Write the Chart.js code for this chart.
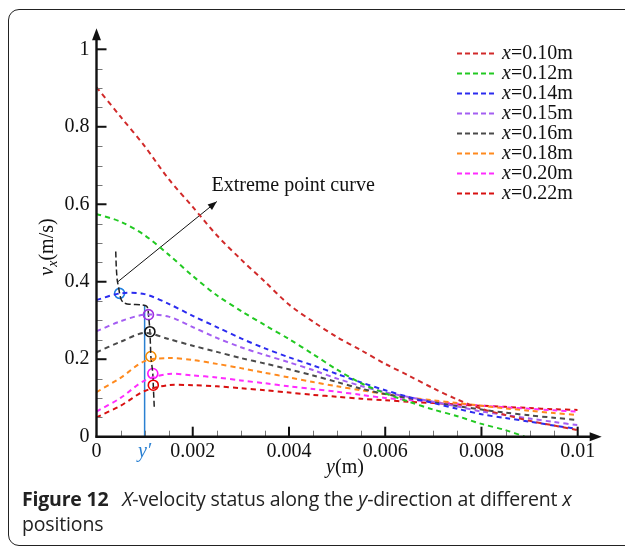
<!DOCTYPE html>
<html><head><meta charset="utf-8">
<script src="https://cdn.jsdelivr.net/npm/chart.js@4/dist/chart.umd.min.js"></script>
<style>
html,body{margin:0;padding:0;background:#fff;width:625px;height:547px;overflow:hidden;}
#frame{position:absolute;left:8px;top:9px;width:640px;height:537px;border:1.5px solid #222;border-radius:11px;box-sizing:border-box;}
#wrap{position:absolute;left:0;top:0;width:625px;height:547px;}
#cap{position:absolute;left:22px;top:486px;width:600px;font-family:"Open Sans","Noto Sans",sans-serif;font-size:19.5px;line-height:25px;color:#222;letter-spacing:-0.15px;}
#cap b{font-weight:700;font-size:19.5px;letter-spacing:-0.2px;margin-right:4px;}
</style></head>
<body>
<div id="frame"></div>
<div id="wrap"><canvas id="c" width="625" height="547"></canvas></div>
<div id="cap"><b>Figure 12</b>&nbsp;&nbsp;<i>X</i>-velocity status along the <i>y</i>-direction at different <i>x</i><br>positions</div>
<script>
// ---- data ----
const yPositions = [0,0.0005,0.001,0.0015,0.002,0.0025,0.003,0.0035,0.004,0.0045,0.005,0.0055,0.006,0.0065,0.007,0.0075,0.008,0.0085,0.009,0.0095,0.01];
const seriesLabels = ["0.10","0.12","0.14","0.15","0.16","0.18","0.20","0.22"];
const v010 = [0.902,0.826,0.750,0.665,0.593,0.520,0.458,0.400,0.341,0.297,0.257,0.223,0.188,0.157,0.125,0.096,0.072,0.056,0.041,0.029,0.017];
const yPositions012 = [0,0.0005,0.001,0.0015,0.002,0.0025,0.003,0.0035,0.004,0.0045,0.005,0.0055,0.006,0.0065,0.007,0.0075,0.008,0.0085,0.0089];
const v012 = [0.575,0.555,0.520,0.470,0.415,0.365,0.325,0.288,0.252,0.213,0.173,0.138,0.112,0.090,0.070,0.053,0.033,0.017,0.0];
const v014 = [0.353,0.370,0.368,0.343,0.312,0.283,0.254,0.228,0.205,0.184,0.162,0.140,0.120,0.102,0.087,0.072,0.058,0.048,0.039,0.029,0.020];
const v015 = [0.272,0.298,0.315,0.310,0.283,0.255,0.231,0.211,0.192,0.172,0.150,0.131,0.115,0.102,0.090,0.078,0.065,0.056,0.047,0.038,0.030];
const v016 = [0.218,0.245,0.268,0.252,0.235,0.219,0.203,0.189,0.174,0.158,0.141,0.124,0.110,0.099,0.089,0.079,0.070,0.062,0.055,0.049,0.043];
const v018 = [0.115,0.152,0.195,0.203,0.198,0.188,0.177,0.165,0.153,0.141,0.130,0.120,0.110,0.101,0.094,0.087,0.080,0.073,0.067,0.061,0.056];
const v020 = [0.065,0.100,0.145,0.162,0.158,0.153,0.145,0.138,0.130,0.123,0.116,0.108,0.100,0.095,0.090,0.085,0.080,0.076,0.072,0.068,0.065];
const v022 = [0.050,0.080,0.118,0.133,0.133,0.130,0.125,0.120,0.114,0.108,0.103,0.098,0.094,0.090,0.087,0.083,0.080,0.077,0.074,0.071,0.069];
// extreme point curve (y, vx)
const extremeCurveY = [0.0004,0.00041,0.00043,0.00046,0.00048,0.00051,0.00056,0.00068,0.00095,0.00104,0.00107,0.00108,0.0011,0.00111,0.00112,0.00113,0.00115,0.00117,0.00118,0.0012];
const extremeCurveV = [0.478,0.44,0.405,0.385,0.370,0.355,0.346,0.342,0.340,0.337,0.330,0.315,0.290,0.271,0.240,0.207,0.185,0.163,0.133,0.077];
// extreme points (circles)
const extremePointY = [0.00048,0.00108,0.00111,0.00113,0.00117,0.00118];
const extremePointV = [0.370,0.315,0.271,0.207,0.163,0.133];
// ticks
const xTickValues = [0,0.001,0.002,0.004,0.006,0.008,0.01];
const xTickLabels = ["0","y\u2032","0.002","0.004","0.006","0.008","0.01"];
const yTickValues = [0,0.2,0.4,0.6,0.8,1];
const yTickLabels = ["0","0.2","0.4","0.6","0.8","1"];
const yPrime = 0.001, yPrimeTop = 0.34;
const annotationFrom = [0.000433,0.399], annotationTo = [0.0025,0.607];
const annotationText = "Extreme point curve", annotationTextAt = [0.00239,0.647];

// ---- styles ----
const seriesColors = ["#d12a2a","#22c922","#2b2bef","#a45ef2","#4a4a4a","#ff8a1e","#ff2cff","#d81010"];
const pointColors = ["#1f7fe0","#a030e0","#111111","#f28a00","#ff10ff","#e80000"];
const SERIF = "'Liberation Serif','Times New Roman',serif";

function pts(xs, vs){ return xs.map((x,i)=>({x:x,y:vs[i]})); }
const seriesValues = [v010,v012,v014,v015,v016,v018,v020,v022];
const datasets = seriesValues.map((vals,i)=>({
  label: "x=" + seriesLabels[i] + "m",
  data: pts(i===1 ? yPositions012 : yPositions, vals),
  borderColor: seriesColors[i], borderWidth: 2, borderDash: [5,4],
  pointRadius: 0, tension: 0.3, fill: false
}));
datasets.push({label:"extreme", data: pts(extremeCurveY, extremeCurveV), borderColor:"#222", borderWidth:1.5, borderDash:[6,3], pointRadius:0, tension:0.2, fill:false});
datasets.push({label:"points", data: pts(extremePointY, extremePointV), showLine:false, pointRadius:5, pointBorderWidth:1.6, pointBackgroundColor:"rgba(255,255,255,0)", pointBorderColor: pointColors});

const drawPlugin = {
  id:"decor",
  beforeDatasetsDraw(chart){
    const ctx = chart.ctx, sx = chart.scales.x, sy = chart.scales.y;
    const X = v=>sx.getPixelForValue(v), Y = v=>sy.getPixelForValue(v);
    ctx.save();
    ctx.strokeStyle = "#2a80d2"; ctx.lineWidth = 1.5;
    ctx.beginPath(); ctx.moveTo(X(yPrime), Y(0)); ctx.lineTo(X(yPrime), Y(yPrimeTop)); ctx.stroke();
    const x1=X(annotationFrom[0]), y1=Y(annotationFrom[1]), x2=X(annotationTo[0]), y2=Y(annotationTo[1]);
    ctx.strokeStyle="#111"; ctx.lineWidth=1;
    ctx.beginPath(); ctx.moveTo(x1,y1); ctx.lineTo(x2,y2); ctx.stroke();
    const a=Math.atan2(y2-y1,x2-x1), L=9, W=3.5;
    ctx.fillStyle="#111"; ctx.beginPath(); ctx.moveTo(x2,y2);
    ctx.lineTo(x2-L*Math.cos(a)+W*Math.sin(a), y2-L*Math.sin(a)-W*Math.cos(a));
    ctx.lineTo(x2-L*Math.cos(a)-W*Math.sin(a), y2-L*Math.sin(a)+W*Math.cos(a));
    ctx.closePath(); ctx.fill();
    ctx.font = "20px " + SERIF; ctx.textBaseline="middle"; ctx.textAlign="left";
    ctx.fillText(annotationText, X(annotationTextAt[0]), Y(annotationTextAt[1]));
    ctx.restore();
  },
  afterDraw(chart){
    const ctx = chart.ctx, sx = chart.scales.x, sy = chart.scales.y;
    const X = v=>sx.getPixelForValue(v), Y = v=>sy.getPixelForValue(v);
    const x0 = X(0), y0 = Y(0);
    ctx.save();
    ctx.strokeStyle="#777"; ctx.lineWidth=1;
    for(let k=1;k<20;k++){ if(k%4===0) continue; const v=k*0.05; ctx.beginPath(); ctx.moveTo(x0,Math.round(Y(v))+0.5); ctx.lineTo(x0+6,Math.round(Y(v))+0.5); ctx.stroke(); }
    for(let k=1;k<20;k++){ if(k%4===0) continue; const v=k*0.0005; ctx.beginPath(); ctx.moveTo(Math.round(X(v))+0.5,y0); ctx.lineTo(Math.round(X(v))+0.5,y0-6); ctx.stroke(); }
    ctx.strokeStyle="#111"; ctx.lineWidth=2;
    [0.2,0.4,0.6,0.8,1].forEach(v=>{ ctx.beginPath(); ctx.moveTo(x0,Y(v)); ctx.lineTo(x0+10,Y(v)); ctx.stroke(); });
    [0.002,0.004,0.006,0.008,0.01].forEach(v=>{ ctx.beginPath(); ctx.moveTo(X(v),y0); ctx.lineTo(X(v),y0-10); ctx.stroke(); });
    ctx.lineWidth=2.4; ctx.strokeStyle="#111"; ctx.fillStyle="#111";
    const yTop = Y(1)-21, xEnd = X(0.01)+24;
    ctx.beginPath(); ctx.moveTo(x0,y0+1); ctx.lineTo(x0,yTop+8); ctx.stroke();
    ctx.beginPath(); ctx.moveTo(x0-1,y0); ctx.lineTo(xEnd-8,y0); ctx.stroke();
    ctx.beginPath(); ctx.moveTo(x0,yTop); ctx.lineTo(x0-4.5,yTop+12); ctx.lineTo(x0+4.5,yTop+12); ctx.closePath(); ctx.fill();
    ctx.beginPath(); ctx.moveTo(xEnd,y0); ctx.lineTo(xEnd-12,y0-4.5); ctx.lineTo(xEnd-12,y0+4.5); ctx.closePath(); ctx.fill();
    const lx = 457, ly = 53.5;
    chart.data.datasets.slice(0,8).forEach((ds,i)=>{
      const yy = ly + i*20;
      ctx.strokeStyle = ds.borderColor; ctx.lineWidth=2; ctx.setLineDash([5,3]);
      ctx.beginPath(); ctx.moveTo(lx,yy); ctx.lineTo(lx+40,yy); ctx.stroke(); ctx.setLineDash([]);
      ctx.fillStyle="#111"; ctx.textBaseline="middle"; ctx.textAlign="left";
      ctx.font = "italic 20px " + SERIF; ctx.fillText("x", lx+45, yy);
      const w = ctx.measureText("x").width;
      ctx.font = "20px " + SERIF; ctx.fillText("=" + seriesLabels[i] + "m", lx+45+w, yy);
    });
    ctx.fillStyle="#111"; ctx.textBaseline="middle";
    ctx.font = "italic 20px " + SERIF; const wy = ctx.measureText("y").width;
    ctx.font = "20px " + SERIF; const wm = ctx.measureText("(m)").width;
    let tx = 345 - (wy+wm)/2;
    ctx.font = "italic 20px " + SERIF; ctx.textAlign="left"; ctx.fillText("y", tx, 468);
    ctx.font = "20px " + SERIF; ctx.fillText("(m)", tx+wy, 468);
    ctx.translate(48,247); ctx.rotate(-Math.PI/2);
    ctx.font = "italic 20px " + SERIF; const wv = ctx.measureText("v").width;
    ctx.font = "italic 14px " + SERIF; const wsub = ctx.measureText("x").width;
    ctx.font = "20px " + SERIF; const wu = ctx.measureText("(m/s)").width;
    let u = -(wv+wsub+wu)/2;
    ctx.font = "italic 20px " + SERIF; ctx.fillText("v", u, 0); u+=wv;
    ctx.font = "italic 14px " + SERIF; ctx.fillText("x", u, 5); u+=wsub;
    ctx.font = "20px " + SERIF; ctx.fillText("(m/s)", u, 0);
    ctx.restore();
  }
};

new Chart(document.getElementById("c"), {
  type:"line",
  data:{datasets:datasets},
  options:{
    responsive:false, animation:false, devicePixelRatio:1,
    layout:{padding:{left:46.5,right:47.3,top:49.3,bottom:70.3}},
    plugins:{legend:{display:false}, tooltip:{enabled:false}},
    scales:{
      x:{type:"linear", min:0, max:0.01,
        grid:{display:false, drawTicks:false}, border:{display:false},
        afterBuildTicks:s=>{ s.ticks = xTickValues.map(v=>({value:v})); },
        afterFit:s=>{ s.height = 40; },
        ticks:{autoSkip:false, maxRotation:0, padding:3,
          callback:(v,i)=>xTickLabels[i],
          color:c=> c.tick && c.tick.value===yPrime ? "#2a80d2" : "#111",
          font:c=>({family:SERIF, size:20, style: c.tick && c.tick.value===yPrime ? "italic":"normal"})}},
      y:{type:"linear", min:0, max:1,
        grid:{display:false, drawTicks:false}, border:{display:false},
        afterBuildTicks:s=>{ s.ticks = yTickValues.map(v=>({value:v})); },
        afterFit:s=>{ s.width = 50; },
        ticks:{autoSkip:false, padding:7, color:"#111",
          callback:(v,i)=>yTickLabels[i],
          font:{family:SERIF, size:20}}}
    }
  },
  plugins:[drawPlugin]
});
</script>
</body></html>
